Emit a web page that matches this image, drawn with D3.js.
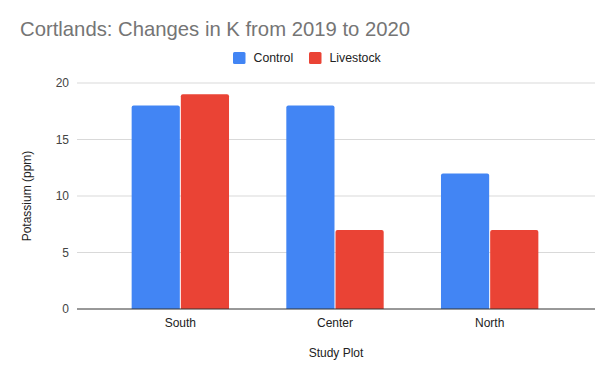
<!DOCTYPE html>
<html>
<head>
<meta charset="utf-8">
<script src="https://cdn.jsdelivr.net/npm/d3@7"></script>
<style>
  body { margin: 0; background: #fff; }
  text { font-family: Arial, "Liberation Sans", sans-serif; }
</style>
</head>
<body>
<div id="chart"></div>
<script>
// data
const plots = ["South", "Center", "North"];
const seriesNames = ["Control", "Livestock"];
const control = [18, 18, 12];
const livestock = [19, 7, 7];
const yTicks = [0, 5, 10, 15, 20];
const colors = ["#4285f4", "#ea4335"];

const width = 614, height = 378;
const svg = d3.select("#chart").append("svg")
    .attr("width", width)
    .attr("height", height);

const rows = plots.map((p, i) => ({plot: p, values: [control[i], livestock[i]]}));

// scales
const y = d3.scaleLinear().domain([0, 20]).range([309, 83]);
const x0 = d3.scaleBand().domain(plots).range([103, 567]).padding(0);
const bw = x0.bandwidth();
const x1 = d3.scaleBand().domain(seriesNames).range([bw * 0.182, bw * 0.818]).padding(0);

// title
svg.append("text")
    .attr("x", 20)
    .attr("y", 36)
    .attr("font-size", 20.3)
    .attr("fill", "#757575")
    .text("Cortlands: Changes in K from 2019 to 2020");

// legend
const legend = svg.append("g");
const legendX = [233, 309];
seriesNames.forEach((name, i) => {
    legend.append("rect")
        .attr("x", legendX[i])
        .attr("y", 52)
        .attr("width", 12.5)
        .attr("height", 12)
        .attr("rx", 1.5)
        .attr("fill", colors[i]);
    legend.append("text")
        .attr("x", legendX[i] + 20.5)
        .attr("y", 62)
        .attr("font-size", 12.3)
        .attr("fill", "#222")
        .text(name);
});

// gridlines
svg.append("g").selectAll("line")
    .data(yTicks.filter(d => d !== 0))
    .enter().append("line")
    .attr("x1", 77).attr("x2", 595)
    .attr("y1", d => y(d)).attr("y2", d => y(d))
    .attr("stroke", "#d9d9d9")
    .attr("stroke-width", 1);

// y tick labels
svg.append("g").selectAll("text")
    .data(yTicks)
    .enter().append("text")
    .attr("x", 69)
    .attr("y", d => y(d) + 4)
    .attr("text-anchor", "end")
    .attr("font-size", 12)
    .attr("fill", "#444")
    .text(d => d);

// y axis title
svg.append("text")
    .attr("transform", "translate(31,196) rotate(-90)")
    .attr("text-anchor", "middle")
    .attr("font-size", 12)
    .attr("fill", "#222")
    .text("Potassium (ppm)");

// bars
const groups = svg.append("g").selectAll("g")
    .data(rows)
    .enter().append("g")
    .attr("transform", d => "translate(" + x0(d.plot) + ",0)");

groups.selectAll("path")
    .data(d => d.values.map((v, i) => ({name: seriesNames[i], value: v, i: i})))
    .enter().append("path")
    .attr("d", d => {
        const bx = x1(d.name) + 0.5, bwid = x1.bandwidth() - 1;
        const top = y(d.value), bot = y(0), r = 2;
        return "M" + bx + "," + bot +
            "V" + (top + r) +
            "Q" + bx + "," + top + " " + (bx + r) + "," + top +
            "H" + (bx + bwid - r) +
            "Q" + (bx + bwid) + "," + top + " " + (bx + bwid) + "," + (top + r) +
            "V" + bot + "Z";
    })
    .attr("fill", d => colors[d.i]);

// baseline
svg.append("line")
    .attr("x1", 77).attr("x2", 595)
    .attr("y1", y(0)).attr("y2", y(0))
    .attr("stroke", "#333")
    .attr("stroke-width", 1);

// x labels
svg.append("g").selectAll("text")
    .data(plots)
    .enter().append("text")
    .attr("x", d => x0(d) + bw / 2)
    .attr("y", 327)
    .attr("text-anchor", "middle")
    .attr("font-size", 12)
    .attr("fill", "#222")
    .text(d => d);

// x axis title
svg.append("text")
    .attr("x", 336)
    .attr("y", 357)
    .attr("text-anchor", "middle")
    .attr("font-size", 12)
    .attr("fill", "#222")
    .text("Study Plot");
</script>
</body>
</html>
